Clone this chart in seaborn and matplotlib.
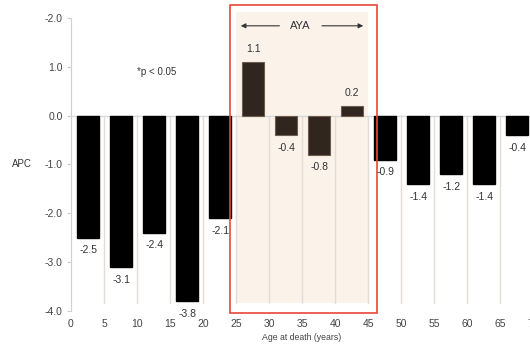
import matplotlib
matplotlib.use("Agg")
import matplotlib.pyplot as plt
import matplotlib.patches as patches
import seaborn as sns
import pandas as pd

# Data
age_start = [0, 5, 10, 15, 20, 25, 30, 35, 40, 45, 50, 55, 60, 65]
apc = [-2.5, -3.1, -2.4, -3.8, -2.1, 1.1, -0.4, -0.8, 0.2, -0.9, -1.4, -1.2, -1.4, -0.4]
group = ['other'] * 5 + ['AYA'] * 4 + ['other'] * 5
ytick_vals = [2, 1, 0, -1, -2, -3, -4]
ytick_labels = ['-2.0', '1.0', '0.0', '-1.0', '-2.0', '-3.0', '-4.0']
xtick_vals = list(range(0, 75, 5))

df = pd.DataFrame({'age': [a + 2.6 for a in age_start], 'apc': apc, 'group': group})

sns.set_style('white')
plt.rcParams['font.family'] = ['Liberation Sans', 'DejaVu Sans']

fig = plt.figure(figsize=(5.3, 3.47), dpi=100)
ax = fig.add_axes([71 / 530, 36 / 347, 462 / 530, 293 / 347])

# AYA shaded band and frame
ax.add_patch(patches.Rectangle((25, -3.83), 20, 5.95, facecolor='#fbf2ea',
                               edgecolor='none', zorder=0, clip_on=False))
ax.add_patch(patches.Rectangle((24.1, -4.04), 22.2, 6.31, facecolor='none',
                               edgecolor='#e8473d', linewidth=1.2, zorder=5, clip_on=False))

# light vertical guides below zero
for x in range(5, 70, 5):
    ax.plot([x, x], [0, -3.83], color='#e2ddd8', linewidth=1, zorder=1)
ax.axhline(0, color='#d8d8d8', linewidth=1, zorder=1)

sns.barplot(data=df, x='age', y='apc', hue='group', native_scale=True, dodge=False,
            palette={'other': '#000000', 'AYA': '#33261c'}, width=0.66,
            legend=False, ax=ax, zorder=3)

for cont in ax.containers:
    for b in cont:
        if b.get_facecolor()[0] > 0.1:
            b.set_edgecolor('#6e5c4c')
            b.set_linewidth(0.8)
        else:
            b.set_edgecolor('#000000')

# value labels
for x, v in zip(df['age'], df['apc']):
    off = 9 if v > 0 else -9
    ax.annotate(f'{v:.1f}', xy=(x, v), xytext=(0, off), textcoords='offset points',
                ha='center', va='center', fontsize=7.5, color='#333333', zorder=6)

# AYA arrow
ax.annotate('', xy=(25.3, 1.84), xytext=(32.0, 1.84),
            arrowprops=dict(arrowstyle='-|>', color='#333333', lw=0.8, mutation_scale=7))
ax.annotate('', xy=(44.7, 1.84), xytext=(37.6, 1.84),
            arrowprops=dict(arrowstyle='-|>', color='#333333', lw=0.8, mutation_scale=7))
ax.text(34.8, 1.84, 'AYA', ha='center', va='center', fontsize=8, color='#333333')

ax.text(10, 0.9, '*p < 0.05', ha='left', va='center', fontsize=7, color='#333333')

ax.set_xlim(0, 70)
ax.set_ylim(-4, 2)
ax.set_xticks(xtick_vals)
ax.set_xticklabels([str(v) for v in xtick_vals])
ax.set_yticks(ytick_vals)
ax.set_yticklabels(ytick_labels)
ax.tick_params(axis='y', length=3, width=0.8, color='#cccccc', labelsize=7.5,
               labelcolor='#444444', pad=3, left=True)
ax.tick_params(axis='x', length=0, labelsize=7.5, labelcolor='#444444', pad=6)

ax.set_xlabel('Age at death (years)', fontsize=6.3, color='#444444', labelpad=3)
ax.set_ylabel('')
ax.text(-7.4, -1.0, 'APC', ha='center', va='center', fontsize=7, color='#333333')

sns.despine(ax=ax, top=True, right=True, bottom=True)
ax.spines['left'].set_color('#d0d0d0')
ax.spines['left'].set_linewidth(0.8)

fig.savefig('out.png', dpi=100)
